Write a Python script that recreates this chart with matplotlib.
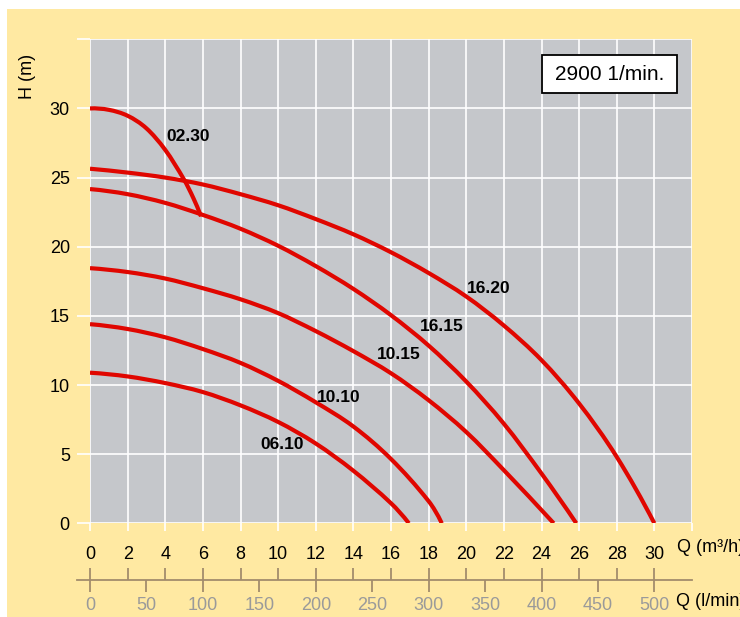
#!/usr/bin/env python3
"""
Pump performance curves H(Q) at 2900 1/min, with a second flow scale in l/min
"""

import matplotlib
matplotlib.use("Agg")
import matplotlib.pyplot as plt
from matplotlib.patches import Rectangle, PathPatch
from matplotlib.path import Path

# Curve points, flow in m3/h and head in m
q_0230 = [0, 1, 2, 3, 4, 5, 5.5, 5.9]
h_0230 = [30, 29.9, 29.47, 28.56, 27.0, 24.85, 23.5, 22.2]

q_1620 = [0, 2, 4, 6, 8, 10, 12, 14, 16, 18, 20, 22, 24, 26, 28, 30]
h_1620 = [25.64, 25.36, 25.0, 24.5, 23.8, 23.0, 22.0, 20.9, 19.6, 18.1,
          16.4, 14.3, 11.8, 8.66, 4.8, 0]

q_1615 = [0, 2, 4, 6, 8, 10, 12, 14, 16, 18, 20, 22, 24, 25.85]
h_1615 = [24.17, 23.8, 23.17, 22.3, 21.3, 20.07, 18.6, 16.95, 15.05, 12.85,
          10.25, 7.2, 3.6, 0]

q_1015 = [0, 2, 4, 6, 8, 10, 12, 14, 16, 18, 20, 22, 24.65]
h_1015 = [18.45, 18.17, 17.7, 17.0, 16.2, 15.2, 13.9, 12.45, 10.85, 8.9,
          6.6, 3.84, 0]

q_1010 = [0, 2, 4, 6, 8, 10, 12, 14, 16, 18, 18.7]
h_1010 = [14.4, 14.05, 13.45, 12.6, 11.6, 10.3, 8.75, 7.0, 4.65, 1.6, 0]

q_0610 = [0, 2, 4, 6, 8, 10, 12, 14, 16, 16.95]
h_0610 = [10.89, 10.62, 10.14, 9.49, 8.53, 7.33, 5.77, 3.8, 1.45, 0]

models = ["02.30", "16.20", "16.15", "10.15", "10.10", "06.10"]
label_q = [5.2, 21.2, 18.7, 16.4, 13.2, 10.2]
label_h = [28.0, 17.0, 14.25, 12.2, 9.1, 5.7]

q_ticks = list(range(0, 33, 2))
h_ticks = list(range(0, 36, 5))
lmin_ticks = list(range(0, 501, 50))

YELLOW = "#FFE9A2"
PANEL = "#C5C7CB"
RED = "#E00600"
BROWN = "#A28C6C"
SANS = ["Liberation Sans Narrow", "Liberation Sans", "DejaVu Sans"]
REGULAR = ["Liberation Sans", "DejaVu Sans"]


def curve_path(q, h):
    """Smooth path through the points (cubic Hermite, slopes from neighbours)"""
    n = len(q)
    slopes = []
    for i in range(n):
        a = max(i - 1, 0)
        b = min(i + 1, n - 1)
        slopes.append((h[b] - h[a]) / (q[b] - q[a]))
    # end slopes from a parabola through the last two points
    first = (h[1] - h[0]) / (q[1] - q[0])
    last = (h[-1] - h[-2]) / (q[-1] - q[-2])
    slopes[0] = 2 * first - slopes[1]
    slopes[-1] = 2 * last - slopes[-2]

    verts = [(q[0], h[0])]
    codes = [Path.MOVETO]
    for i in range(n - 1):
        dx = (q[i + 1] - q[i]) / 3
        verts += [(q[i] + dx, h[i] + slopes[i] * dx),
                  (q[i + 1] - dx, h[i + 1] - slopes[i + 1] * dx),
                  (q[i + 1], h[i + 1])]
        codes += [Path.CURVE4] * 3
    return Path(verts, codes)


def plot_curves(ax):
    """Draw the H(Q) curves and their model labels"""
    series = [(q_0230, h_0230), (q_1620, h_1620), (q_1615, h_1615),
              (q_1015, h_1015), (q_1010, h_1010), (q_0610, h_0610)]
    for q, h in series:
        ax.add_patch(PathPatch(curve_path(q, h), facecolor="none", edgecolor=RED,
                               linewidth=3.0, capstyle="butt", joinstyle="round",
                               zorder=3))

    for name, x, y in zip(models, label_q, label_h):
        ax.text(x, y, name, ha="center", va="center", fontsize=12.5,
                fontweight="bold", family=SANS, color="black", zorder=4)


def style_main_axes(ax):
    ax.set_facecolor(PANEL)
    ax.set_xlim(0, 32)
    ax.set_ylim(0, 35)
    for spine in ax.spines.values():
        spine.set_visible(False)

    ax.set_xticks(q_ticks)
    ax.set_xticklabels([str(v) if v <= 30 else "" for v in q_ticks])
    ax.set_yticks(h_ticks)
    ax.set_yticklabels([str(v) if v <= 30 else "" for v in h_ticks])

    ax.tick_params(axis="x", direction="out", length=6, width=1.2,
                   color="white", pad=10, labelsize=13)
    ax.tick_params(axis="y", direction="out", length=9.5, width=1.2,
                   color="white", pad=5, labelsize=13)
    for lab in ax.get_xticklabels() + ax.get_yticklabels():
        lab.set_family(SANS)

    ax.grid(True, color="white", linewidth=1.2)
    ax.set_axisbelow(True)

    # speed box, upper right
    ax.add_patch(Rectangle((0.751, 0.889), 0.224, 0.078, transform=ax.transAxes,
                           facecolor="white", edgecolor="black", linewidth=1.3,
                           zorder=5))
    ax.text(0.863, 0.928, "2900 1/min.", transform=ax.transAxes, ha="center",
            va="center", fontsize=15, family=REGULAR, zorder=6)


def style_lmin_axis(ax2):
    """Second flow scale: m3/h ticks above the line, l/min ticks and labels below"""
    q_left = -13 / 18.8
    ax2.set_xlim(q_left, 32)
    ax2.set_ylim(0, 1)
    ax2.patch.set_visible(False)
    ax2.set_yticks([])
    for side in ["top", "left", "right"]:
        ax2.spines[side].set_visible(False)
    ax2.spines["bottom"].set_color(BROWN)
    ax2.spines["bottom"].set_linewidth(1.3)

    ax2.xaxis.remove_overlapping_locs = False
    ax2.set_xticks([v * 3 / 50 for v in lmin_ticks])
    ax2.set_xticklabels([str(v) for v in lmin_ticks])
    ax2.set_xticks(q_ticks[:-1], minor=True)

    ax2.tick_params(axis="x", which="major", direction="out", length=8.5,
                    width=1.3, color=BROWN, bottom=True, top=False, pad=4,
                    labelsize=13, labelcolor="#9A9A9A")
    ax2.tick_params(axis="x", which="minor", direction="in", length=8.5,
                    width=1.3, color=BROWN, bottom=True, top=False)
    for lab in ax2.get_xticklabels():
        lab.set_family(SANS)


def main():
    fig = plt.figure(figsize=(7.4, 6.17), dpi=100)
    fig.patch.set_facecolor("white")
    fig.add_artist(Rectangle((7 / 740, 0), 1, 1 - 9 / 617, transform=fig.transFigure,
                             facecolor=YELLOW, edgecolor="none", zorder=0))

    ax = fig.add_axes([90 / 740, 1 - 523.3 / 617, 602 / 740, 484 / 617])
    style_main_axes(ax)
    plot_curves(ax)

    ax2 = fig.add_axes([77 / 740, 1 - 580 / 617, 615 / 740, 0.0])
    style_lmin_axis(ax2)

    fig.text(27 / 740, 1 - 76 / 617, "H (m)", rotation=90, ha="center",
             va="center", fontsize=13, family=REGULAR)
    fig.text(677 / 740, 1 - 548 / 617, "Q (m\u00b3/h)", ha="left", va="center",
             fontsize=13, family=REGULAR)
    fig.text(676 / 740, 1 - 601 / 617, "Q (l/min)", ha="left", va="center",
             fontsize=13, family=REGULAR)

    fig.savefig("out.png", dpi=100, facecolor=fig.get_facecolor())


if __name__ == "__main__":
    main()
